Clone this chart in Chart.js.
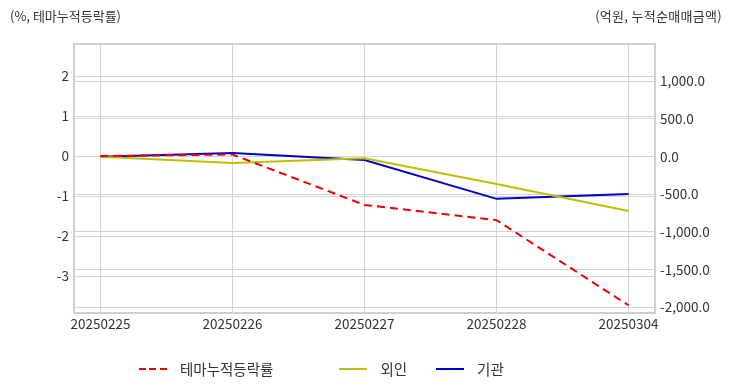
<!DOCTYPE html>
<html>
<head>
<meta charset="utf-8">
<script src="https://cdn.jsdelivr.net/npm/chart.js@4/dist/chart.umd.min.js"></script>
<style>
  html, body { margin: 0; padding: 0; background: #fff; }
  body { width: 732px; height: 392px; position: relative; overflow: hidden;
         font-family: "Noto Sans CJK KR", "Noto Sans", sans-serif; color: #333; }
  #wrap { position: absolute; left: 0; top: 0; width: 732px; height: 392px; }
  .unit { position: absolute; top: 6px; font-size: 13px; color: #333; }
  #unit-left { left: 10px; }
  #unit-right { right: 10px; letter-spacing: 0.3px; }
  #legend { position: absolute; top: 358px; left: 139px; display: flex; align-items: center;
            font-size: 14.5px; color: #333; }
  .lg-item { display: flex; align-items: center; }
  .lg-line { width: 28px; height: 2px; margin-right: 13px; }
</style>
</head>
<body>
<div id="wrap"><canvas id="chart" width="732" height="392"></canvas></div>
<div class="unit" id="unit-left">(%, 테마누적등락률)</div>
<div class="unit" id="unit-right">(억원, 누적순매매금액)</div>
<div id="legend"></div>
<script>
// ── Data ─────────────────────────────────────────────
const dates       = ['20250225', '20250226', '20250227', '20250228', '20250304'];
const themeRate   = [0, 0.04, -1.22, -1.6, -3.73];     // %, left axis
const foreign     = [0, -85, -20, -362, -720];         // 억원, right axis
const institution = [0, 50, -45, -560, -495];          // 억원, right axis
const leftTicks   = [-3, -2, -1, 0, 1, 2];
const rightTicks  = [-2000, -1500, -1000, -500, 0, 500, 1000];

const seriesNames  = ['테마누적등락률', '외인', '기관'];
const seriesColors = ['#ee0000', '#bfbf00', '#0000cc'];

const toPts = arr => arr.map((v, i) => ({ x: i, y: v }));
const setTicks = vals => s => { s.ticks = vals.map(v => ({ value: v })); };

const gridColor = '#d4d4d4';
const tickFont  = { family: '"Noto Sans CJK KR", "Noto Sans", sans-serif', size: 13.5 };

// draw the box around the plot area
const frame = {
  id: 'frame',
  afterDraw(chart) {
    const { ctx, chartArea: a } = chart;
    ctx.save();
    ctx.strokeStyle = '#cfcfcf';
    ctx.lineWidth = 2;
    ctx.strokeRect(a.left, a.top, a.right - a.left, a.bottom - a.top);
    ctx.restore();
  }
};

new Chart(document.getElementById('chart'), {
  type: 'line',
  data: {
    datasets: [
      { label: seriesNames[0], data: toPts(themeRate), yAxisID: 'y',
        borderColor: seriesColors[0], borderWidth: 2, borderDash: [8, 5],
        pointRadius: 0, tension: 0 },
      { label: seriesNames[1], data: toPts(foreign), yAxisID: 'y1',
        borderColor: seriesColors[1], borderWidth: 2, pointRadius: 0, tension: 0 },
      { label: seriesNames[2], data: toPts(institution), yAxisID: 'y1',
        borderColor: seriesColors[2], borderWidth: 2, pointRadius: 0, tension: 0 },
    ]
  },
  options: {
    responsive: false, animation: false,
    layout: { padding: { left: 0, right: 0, top: 44, bottom: 49 } },
    plugins: { legend: { display: false }, tooltip: { enabled: false } },
    scales: {
      x: {
        type: 'linear', min: -0.2, max: 4.2,
        afterBuildTicks: setTicks(dates.map((d, i) => i)),
        afterFit: s => { s.height = 30; },
        ticks: { padding: 3, color: '#333', font: tickFont,
                 maxRotation: 0, autoSkip: false,
                 callback: v => dates[v] ?? '' },
        grid: { color: gridColor, drawTicks: false },
        border: { display: false }
      },
      y: {
        position: 'left', min: -3.92, max: 2.8,
        afterBuildTicks: setTicks(leftTicks),
        afterFit: s => { s.width = 74; },
        ticks: { padding: 5, color: '#333', font: tickFont },
        grid: { color: gridColor, drawTicks: false },
        border: { display: false }
      },
      y1: {
        position: 'right', min: -2075, max: 1495,
        afterBuildTicks: setTicks(rightTicks),
        afterFit: s => { s.width = 77; },
        ticks: { padding: 5, color: '#333', font: tickFont,
                 callback: v => v.toLocaleString('en-US', { minimumFractionDigits: 1, maximumFractionDigits: 1 }) },
        grid: { color: gridColor, drawTicks: false },
        border: { display: false }
      }
    }
  },
  plugins: [frame]
});

// ── Legend ───────────────────────────────────────────
const legend = document.getElementById('legend');
const gaps = [66, 29, 0];
seriesNames.forEach((name, i) => {
  const item = document.createElement('div');
  item.className = 'lg-item';
  item.style.marginRight = gaps[i] + 'px';
  const line = document.createElement('span');
  line.className = 'lg-line';
  line.style.background = i === 0
    ? `repeating-linear-gradient(to right, ${seriesColors[i]} 0 7px, transparent 7px 10.5px)`
    : seriesColors[i];
  const txt = document.createElement('span');
  txt.textContent = name;
  item.appendChild(line); item.appendChild(txt);
  legend.appendChild(item);
});
</script>
</body>
</html>
